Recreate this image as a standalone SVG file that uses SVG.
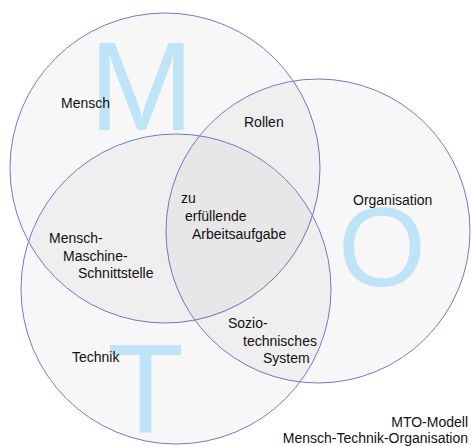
<svg xmlns="http://www.w3.org/2000/svg" width="471" height="446" viewBox="0 0 471 446">
  <style>
    .set { fill: #000; fill-opacity: 0.032; stroke: #7a76c6; stroke-width: 1; }
    .big { font-family: "Liberation Sans", Arial, sans-serif; font-size: 126px; fill: #bfe4f7; }
    .lbl { font-family: "Liberation Sans", Arial, sans-serif; font-size: 14px; fill: #111; }
  </style>
  <rect width="471" height="446" fill="#fff"/>

  <!-- Mensch -->
  <g id="mensch">
    <circle class="set" cx="165" cy="168" r="155"/>
    <text class="big" x="89" y="130">M</text>
  </g>
  <!-- Organisation -->
  <g id="organisation">
    <circle class="set" cx="318" cy="231" r="152"/>
    <text class="big" x="338" y="285.5" style="font-size:113px">O</text>
  </g>
  <!-- Technik -->
  <g id="technik">
    <circle class="set" cx="176" cy="289" r="155"/>
    <text class="big" x="107" y="432">T</text>
  </g>

  <g id="labels">
    <text class="lbl" x="61" y="108">Mensch</text>
    <text class="lbl" x="244" y="127">Rollen</text>
    <text class="lbl" x="353" y="205">Organisation</text>
    <text class="lbl" x="181" y="203">zu</text>
    <text class="lbl" x="185" y="221">erfüllende</text>
    <text class="lbl" x="192" y="239">Arbeitsaufgabe</text>
    <text class="lbl" x="49" y="243">Mensch-</text>
    <text class="lbl" x="63" y="261">Maschine-</text>
    <text class="lbl" x="78" y="278">Schnittstelle</text>
    <text class="lbl" x="228" y="328">Sozio-</text>
    <text class="lbl" x="243" y="346">technisches</text>
    <text class="lbl" x="263" y="363">System</text>
    <text class="lbl" x="72" y="362">Technik</text>
    <text class="lbl" x="468" y="427" text-anchor="end">MTO-Modell</text>
    <text class="lbl" x="468" y="443" text-anchor="end">Mensch-Technik-Organisation</text>
  </g>
</svg>
